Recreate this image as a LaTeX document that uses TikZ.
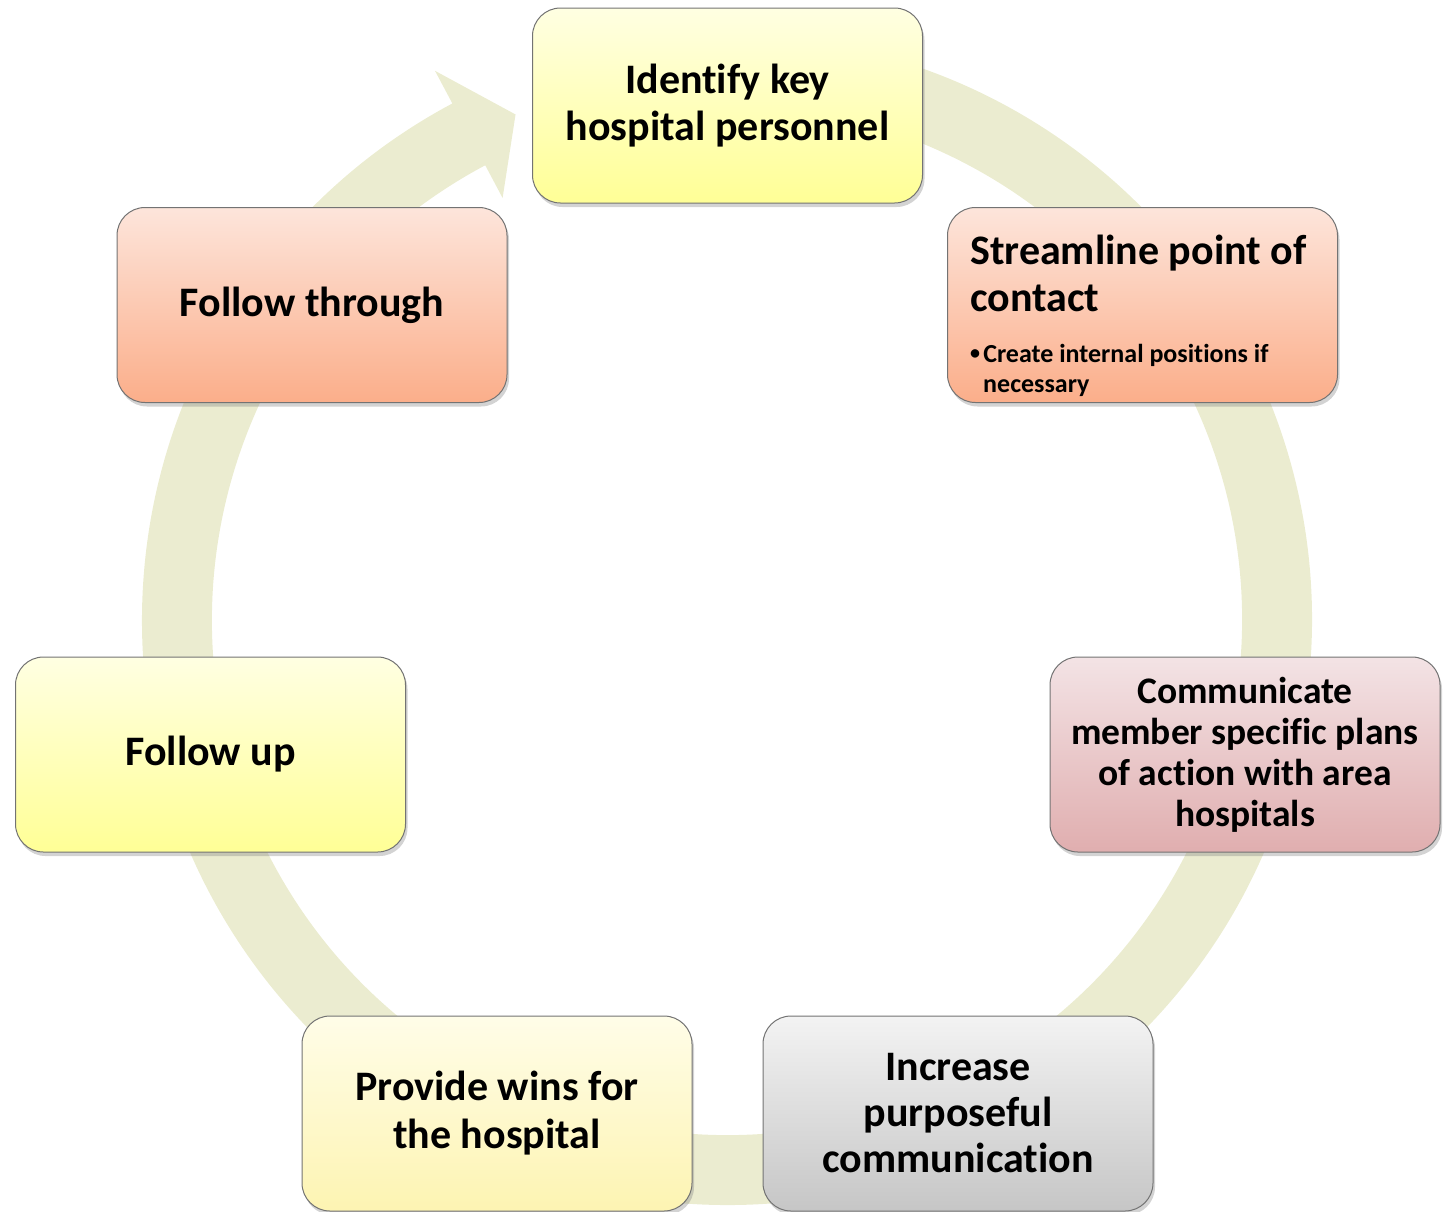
\documentclass[tikz,border=0pt]{standalone}
\usepackage{fontspec}
\setmainfont{Carlito}[Ligatures={NoCommon}]
\usetikzlibrary{shadows}
\definecolor{ringc}{RGB}{235,236,208}
\definecolor{yelT}{RGB}{255,255,226}
\definecolor{yelB}{RGB}{255,255,150}
\definecolor{creT}{RGB}{255,253,232}
\definecolor{creB}{RGB}{253,244,178}
\definecolor{salT}{RGB}{253,229,219}
\definecolor{salB}{RGB}{251,174,138}
\definecolor{pinT}{RGB}{243,227,229}
\definecolor{pinB}{RGB}{224,174,175}
\definecolor{gryT}{RGB}{243,243,243}
\definecolor{gryB}{RGB}{198,198,198}
\begin{document}
\begin{tikzpicture}[x=1pt,y=-1pt,
  box/.style={rounded corners=28pt, draw=black!55, line width=1pt,
    minimum width=390pt, minimum height=195pt, align=center,
    font=\bfseries\fontsize{42}{47}\selectfont,
    drop shadow={opacity=0.35, shadow xshift=2pt, shadow yshift=-4pt}},
  yel/.style={box, top color=yelT, bottom color=yelB},
  cre/.style={box, top color=creT, bottom color=creB},
  sal/.style={box, top color=salT, bottom color=salB},
  pin/.style={box, top color=pinT, bottom color=pinB},
  gry/.style={box, top color=gryT, bottom color=gryB}]
\useasboundingbox (0,0) rectangle (1448,1211);
\clip (0,0) rectangle (1448,1211);
% ring arrow
\coordinate (c) at (727,620);
\begin{scope}[shift={(c)}]
\fill[ringc] (85:585pt) arc[start angle=85, end angle=-242, radius=585pt]
  -- (-242:622pt) -- (-247.3:548pt) -- (-242:478pt) -- (-242:515pt)
  arc[start angle=-242, end angle=85, radius=515pt] -- cycle;
\end{scope}
% boxes
\node[yel] (identify) at (727.5,105.5) {Identify key\\hospital personnel};
\node[sal] (stream) at (1142.5,305) {};
\node[anchor=north west, align=left, inner sep=0pt,
  font=\bfseries\fontsize{42}{47}\selectfont] (streamtitle) at (970,235)
  {Streamline point of\\contact};
\node[anchor=north west, align=left, inner sep=0pt,
  font=\bfseries\fontsize{26}{30}\selectfont] (streambullet) at (970,344)
  {\raisebox{0.12em}{\fontsize{20}{20}\selectfont\textbullet}\hspace{0.12em}Create internal positions if\\\hspace*{0.5em}necessary};
\node[pin, font=\bfseries\fontsize{37.5}{41}\selectfont] (comm) at (1245,754.5)
  {Communicate\\member specific plans\\of action with area\\hospitals};
\node[gry, font=\bfseries\fontsize{42}{46}\selectfont] (incr) at (958,1113.5)
  {Increase\\purposeful\\communication};
\node[cre, font=\bfseries\fontsize{42}{48}\selectfont] (prov) at (497,1113.5)
  {Provide wins for\\the hospital};
\node[yel] (fup) at (210.5,754.5) {Follow up};
\node[sal] (fthr) at (312,305) {Follow through};
\end{tikzpicture}
\end{document}
